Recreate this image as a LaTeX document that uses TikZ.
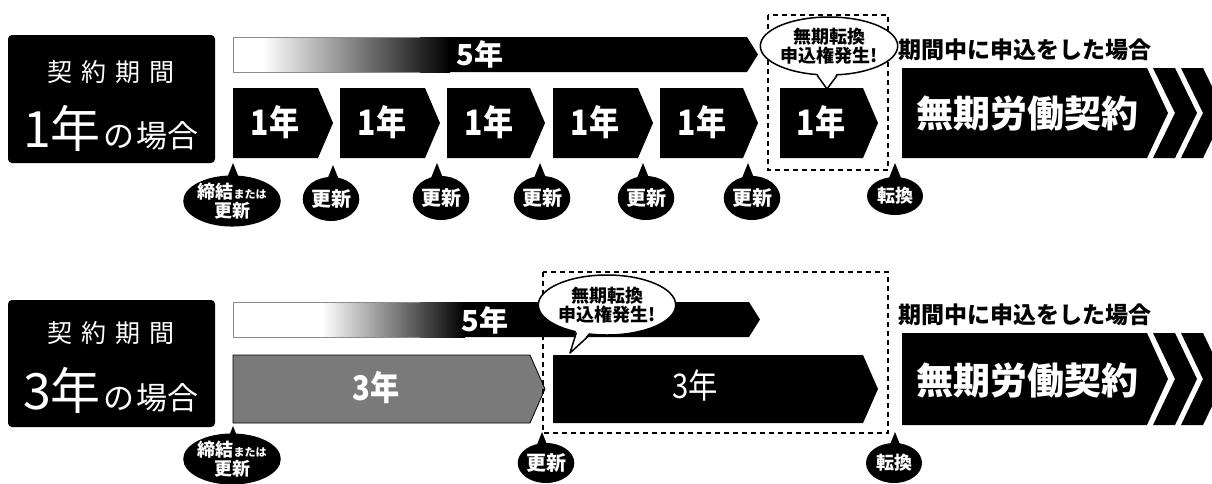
\documentclass[tikz,border=0pt]{standalone}
\usepackage{fontspec}
\newfontfamily\jp{Noto Sans CJK JP}
\usetikzlibrary{shapes.geometric,calc}
\newcommand{\mypent}[5]{\fill[#1] (#2,#4) -- ({#3-15},#4) -- (#3,{(#4+#5)/2}) -- ({#3-15},#5) -- (#2,#5) -- cycle;}
\newcommand{\fs}[1]{\fontsize{#1}{#1}\selectfont}
\newcommand{\narrow}[1]{\scalebox{0.86}[1]{#1}}
\tikzset{
  wtxt/.style={text=white, inner sep=0pt},
  yeartxt/.style={wtxt, font=\jp\bfseries\fs{35}},
  bal/.style={ellipse, fill=black, text=white, inner sep=0pt, minimum width=52pt, minimum height=44pt, align=center, font=\jp\bfseries\fontsize{20}{20}\selectfont},
  balwide/.style={bal, minimum width=97pt, minimum height=47pt, font=\jp\bfseries\fontsize{18}{19}\selectfont},
  call/.style={ellipse, fill=white, draw=black, line width=1.5pt, inner sep=0pt, minimum width=122pt, minimum height=58pt, align=center, font=\jp\bfseries\fontsize{18}{19.5}\selectfont},
  dbox/.style={draw=black, line width=2pt, dash pattern=on 5pt off 4pt},
  labbox/.style={fill=black, rounded corners=4pt},
  hd/.style={inner sep=0pt, font=\jp\bfseries\fs{23}},
  big/.style={wtxt, font=\jp\bfseries\fs{37}},
  bar/.style={draw=black!45, line width=0.6pt}
}
\begin{document}
\begin{tikzpicture}[x=1pt,y=-1pt]
\useasboundingbox (0,0) rectangle (1212,483);
\fill[white] (0,0) rectangle (1212,483);

% ================= TOP ROW =================
\fill[labbox] (8,35) rectangle (215,163);
\node[wtxt, font=\jp\fs{25}] (l1a) at (111,72) {契\hspace{9pt}約\hspace{9pt}期\hspace{9pt}間};
\node[wtxt, anchor=base] (l1b) at (111,147) {\jp\fs{50}1年\fs{31}\hspace{3pt}の\hspace{2pt}場合};

% 5 year bar
\fill[black] (233,37) -- (747,37) -- (758,54.5) -- (747,72) -- (233,72) -- cycle;
\fill[white] (233,37) rectangle (262,72);
\shade[left color=white, right color=black] (262,37) rectangle (450,72);
\draw[bar] (233,37) -- (420,37) (233,72) -- (420,72) (233,37) -- (233,72);
\node[wtxt, font=\jp\bfseries\fs{29}] (y5a) at (480,54) {5年};

% 1 year pentagons
\mypent{black}{233}{333}{88}{158}
\mypent{black}{340}{440}{88}{158}
\mypent{black}{447}{545}{88}{158}
\mypent{black}{553}{653}{88}{158}
\mypent{black}{660}{758}{88}{158}
\mypent{black}{780}{878}{88}{158}
\node[yeartxt] (p1) at (275,122) {\narrow{1年}};
\node[yeartxt] (p2) at (382,122) {\narrow{1年}};
\node[yeartxt] (p3) at (489,122) {\narrow{1年}};
\node[yeartxt] (p4) at (595,122) {\narrow{1年}};
\node[yeartxt] (p5) at (702,122) {\narrow{1年}};
\node[yeartxt] (p6) at (821,122) {\narrow{1年}};

% dashed box + callout
\draw[dbox] (768,15) rectangle (888,170);
\node[call] (c1) at (829,46) {無期転換\\申込権発生!};
\coordinate (c1t) at (827,89);
\fill[white] ($(c1.248)+(0,-2.5)$) -- (c1t) -- ($(c1.285)+(0,-2.5)$) -- cycle;
\draw[line width=1.5pt, line join=round] (c1.248) -- (c1t) -- (c1.285);

% heading and final arrow
\node[hd, anchor=west] (h1) at (898,50) {期間中に申込をした場合};
\fill[black] (902,68) -- (1147,68) -- (1168,113) -- (1147,158) -- (902,158) -- cycle;
\begin{scope}
\clip (0,0) rectangle (1212,483);
\fill[black] (1153,68) -- (1175,68) -- (1197,113) -- (1175,158) -- (1153,158) -- (1175,113) -- cycle;
\fill[black] (1181,68) -- (1203,68) -- (1225,113) -- (1203,158) -- (1181,158) -- (1203,113) -- cycle;
\end{scope}
\node[big] (m1) at (1027,113) {無期労働契約};

% balloons
\foreach \ax/\ay in {233/163,333/165,437/163,540/163,643/163,748/163,895/163}{
  \fill[black] (\ax,\ay) -- ++(-8,20) -- ++(16,0) -- cycle;
}
\node[balwide] (b0) at (232,201) {締結{\fontsize{11}{11}\selectfont または}\\更新};
\node[bal] (b1) at (331,199) {更新};
\node[bal] (b2) at (441,198) {更新};
\node[bal] (b3) at (542,198) {更新};
\node[bal] (b4) at (646,198) {更新};
\node[bal] (b5) at (752,198) {更新};
\node[bal, minimum width=56pt, minimum height=38pt, font=\jp\bfseries\fs{18}] (b6) at (895,196) {転換};

% ================= BOTTOM ROW =================
\fill[labbox] (8,300) rectangle (215,427);
\node[wtxt, font=\jp\fs{25}] (l2a) at (111,333) {契\hspace{9pt}約\hspace{9pt}期\hspace{9pt}間};
\node[wtxt, anchor=base] (l2b) at (111,409) {\jp\fs{50}3年\fs{31}\hspace{3pt}の\hspace{2pt}場合};

% 5 year bar
\fill[black] (233,302) -- (749,302) -- (760,319.5) -- (749,337) -- (233,337) -- cycle;
\fill[white] (233,302) rectangle (322,337);
\shade[left color=white, right color=black] (322,302) rectangle (465,337);
\draw[bar] (233,302) -- (420,302) (233,337) -- (420,337) (233,302) -- (233,337);
\node[wtxt, font=\jp\bfseries\fs{29}] (y5b) at (485,320) {5年};

% 3 year pentagons
\mypent{black!52}{233}{545}{355}{423}
\draw[black, line width=0.8pt] (233,355) -- (530,355) -- (545,389) -- (530,423) -- (233,423) -- cycle;
\mypent{black}{553}{878}{355}{423}
\node[wtxt, font=\jp\bfseries\fs{34}] (q1) at (376,388) {\narrow{3年}};
\node[wtxt, font=\jp\fs{34}] (q2) at (695,386) {\narrow{3年}};

% dashed box + callout
\draw[dbox] (543,272) rectangle (888,433);
\node[call, minimum width=120pt, minimum height=60pt] (c2) at (607,305) {無期転換\\申込権発生!};
\coordinate (c2t) at (570,353);
\fill[white] ($(c2.222)+(0,-2.5)$) -- (c2t) -- ($(c2.240)+(0,-2.5)$) -- cycle;
\draw[line width=1.5pt, line join=round] (c2.222) -- (c2t) -- (c2.240);

% heading and final arrow
\node[hd, anchor=west] (h2) at (898,315) {期間中に申込をした場合};
\fill[black] (902,333) -- (1147,333) -- (1168,379) -- (1147,425) -- (902,425) -- cycle;
\begin{scope}
\clip (0,0) rectangle (1212,483);
\fill[black] (1153,333) -- (1175,333) -- (1197,379) -- (1175,425) -- (1153,425) -- (1175,379) -- cycle;
\fill[black] (1181,333) -- (1203,333) -- (1225,379) -- (1203,425) -- (1181,425) -- (1203,379) -- cycle;
\end{scope}
\node[big] (m2) at (1027,380) {無期労働契約};

% balloons
\foreach \ax/\ay in {233/426,542/432,895/432}{
  \fill[black] (\ax,\ay) -- ++(-8,20) -- ++(16,0) -- cycle;
}
\node[balwide] (d0) at (232,459) {締結{\fontsize{11}{11}\selectfont または}\\更新};
\node[bal, minimum width=50pt, minimum height=40pt] (d1) at (546,463) {更新};
\node[bal, minimum width=56pt, minimum height=40pt, font=\jp\bfseries\fs{18}] (d2) at (894,463) {転換};
\end{tikzpicture}
\end{document}
